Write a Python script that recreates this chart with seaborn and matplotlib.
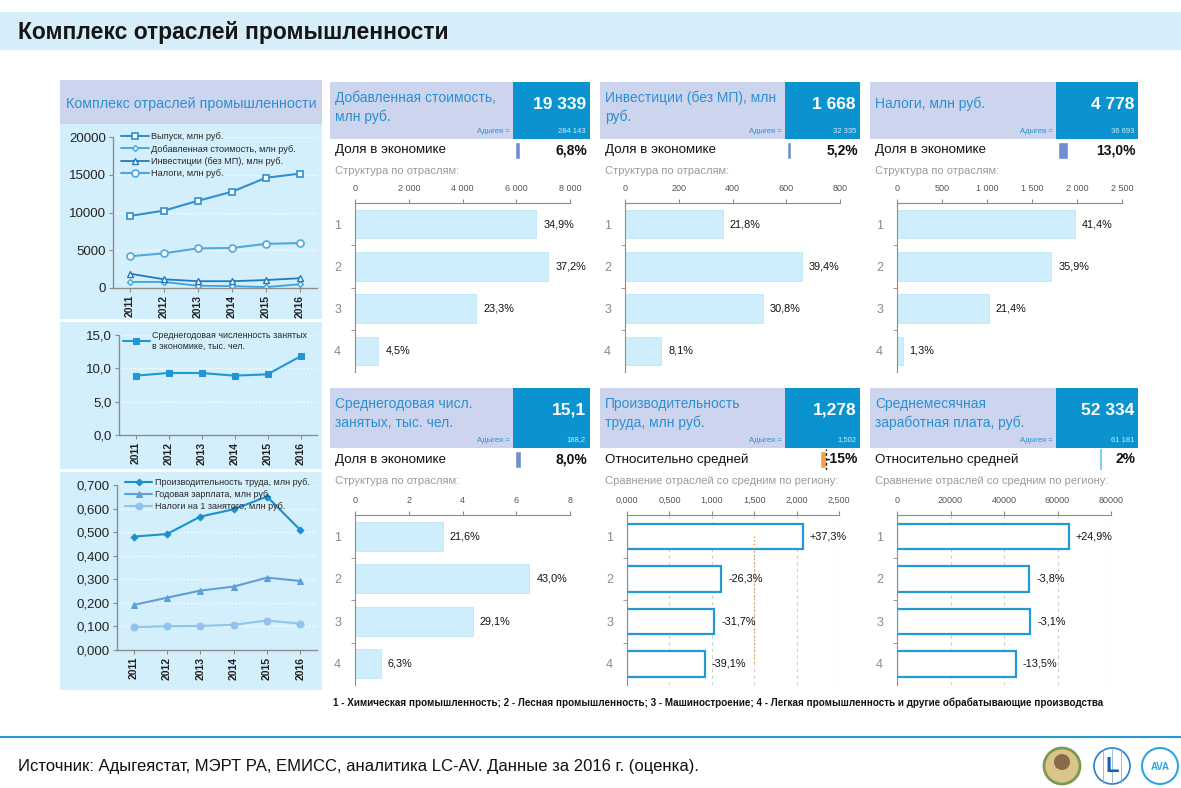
import numpy as np
import pandas as pd
import matplotlib
matplotlib.use('Agg')
import matplotlib.pyplot as plt
from matplotlib.patches import Rectangle, Circle
import seaborn as sns

# ---------------- DATA ----------------
years = ['2011', '2012', '2013', '2014', '2015', '2016']
output_vals = [9550, 10250, 11550, 12750, 14600, 15150]
taxes_line = [4200, 4600, 5250, 5300, 5850, 5950]
invest_line = [1900, 1150, 900, 900, 1050, 1300]
added_line = [800, 800, 300, 250, 120, 500]
line1_labels = ['Выпуск, млн руб.', 'Добавленная стоимость, млн руб.',
                'Инвестиции (без МП), млн руб.', 'Налоги, млн руб.']

employment = [8.9, 9.3, 9.3, 8.9, 9.1, 11.8]
employment_label = 'Среднегодовая численность занятых\nв экономике, тыс. чел.'

productivity = [0.481, 0.492, 0.566, 0.597, 0.651, 0.509]
annual_wage = [0.191, 0.222, 0.252, 0.269, 0.307, 0.293]
tax_per_emp = [0.097, 0.101, 0.102, 0.107, 0.125, 0.112]
line3_labels = ['Производительность труда, млн руб.', 'Годовая зарплата, млн руб.',
                'Налоги на 1 занятого, млн руб.']

industries = ['1', '2', '3', '4']
va_vals = [6749, 7194, 4506, 870]
va_shares = [34.9, 37.2, 23.3, 4.5]
inv_vals = [364, 657, 514, 135]
inv_shares = [21.8, 39.4, 30.8, 8.1]
tax_vals = [1978, 1715, 1022, 62]
tax_shares = [41.4, 35.9, 21.4, 1.3]
emp_vals = [3.26, 6.49, 4.39, 0.95]
emp_shares = [21.6, 43.0, 29.1, 6.3]
prod_vals = [2.07, 1.11, 1.03, 0.92]
prod_dev = [37.3, -26.3, -31.7, -39.1]
prod_region_avg = 1.502
wage_vals = [64300, 49500, 49900, 44500]
wage_dev = [24.9, -3.8, -3.1, -13.5]

panel_titles = ['Добавленная стоимость,\nмлн руб.', 'Инвестиции (без МП), млн\nруб.',
                'Налоги, млн руб.', 'Среднегодовая числ.\nзанятых, тыс. чел.',
                'Производительность\nтруда, млн руб.', 'Среднемесячная\nзаработная плата, руб.']
panel_big = ['19 339', '1 668', '4 778', '15,1', '1,278', '52 334']
panel_small = ['284 143', '32 335', '36 693', '188,2', '1,502', '61 181']
panel_share = [6.8, 5.2, 13.0, 8.0, -15, 2]
panel_share_txt = ['6,8%', '5,2%', '13,0%', '8,0%', '-15%', '2%']

footnote = ('1 - Химическая промышленность; 2 - Лесная промышленность; 3 - Машиностроение; '
            '4 - Легкая промышленность и другие обрабатывающие производства')
source = 'Источник: Адыгеястат, МЭРТ РА, ЕМИСС, аналитика LC-AV. Данные за 2016 г. (оценка).'

# ---------------- STYLE ----------------
sns.set_style('white')
plt.rcParams['font.family'] = ['Liberation Sans', 'DejaVu Sans']

TITLE_BAND = '#d5eefa'
LAV = '#cdd5ee'
BLUE_BOX = '#0a93cf'
PANEL_TXT = '#2b8fd1'
LEFT_BG = '#d3effb'
BAR_FILL = '#cdeefa'
OUT_EDGE = '#2499d6'
AXC = '#8c8c8c'

W, H = 1181, 788
fig = plt.figure(figsize=(W / 100, H / 100), dpi=100)
fig.patch.set_facecolor('white')

bg = fig.add_axes([0, 0, 1, 1])
bg.set_xlim(0, W)
bg.set_ylim(H, 0)
bg.axis('off')


def rect(x0, y0, x1, y1, color, **kw):
    bg.add_patch(Rectangle((x0, y0), x1 - x0, y1 - y0, facecolor=color, edgecolor='none', **kw))


def T(x, y, s, **kw):
    kw.setdefault('va', 'center')
    bg.text(x, y, s, **kw)


def axpx(x0, y0, x1, y1):
    return fig.add_axes([x0 / W, 1 - y1 / H, (x1 - x0) / W, (y1 - y0) / H])


# title band
rect(0, 12, W, 50, TITLE_BAND)
T(18, 32, 'Комплекс отраслей промышленности', fontsize=16.5, fontweight='bold', color='#151515')

# left panel backgrounds
rect(60, 80, 322, 124, LAV)
T(66, 104, 'Комплекс отраслей промышленности', fontsize=10.3, color=PANEL_TXT)
rect(60, 124, 322, 319, LEFT_BG)
rect(60, 322, 322, 469, LEFT_BG)
rect(60, 472, 322, 690, LEFT_BG)

# ---------------- LEFT LINE CHARTS ----------------
xs = np.arange(6)


def style_line_ax(ax, ylim, yticks, ylabels):
    ax.set_facecolor('none')
    ax.set_xlim(-0.5, 5.5)
    ax.set_ylim(*ylim)
    ax.set_yticks(yticks)
    ax.set_yticklabels(ylabels, fontsize=9.5, color='#222222')
    ax.set_xticks(xs)
    ax.set_xticklabels(years, rotation=90, fontsize=7.5, fontweight='bold', color='#222222')
    for s in ['top', 'right']:
        ax.spines[s].set_visible(False)
    for s in ['left', 'bottom']:
        ax.spines[s].set_color(AXC)
        ax.spines[s].set_linewidth(1)
    ax.tick_params(axis='both', direction='out', length=3, color=AXC, pad=2, left=True, bottom=True)
    ax.grid(axis='y', color='white', linestyle=':', linewidth=1)
    ax.set_axisbelow(True)
    ax.set_xlabel('')
    ax.set_ylabel('')


ax1 = axpx(113, 137, 317, 288)
c1 = ['#2f8fd0', '#3ea3dc', '#2279bd', '#4fa8de']
sns.lineplot(x=xs, y=output_vals, ax=ax1, color=c1[0], marker='s', markersize=5,
             markerfacecolor='white', markeredgecolor=c1[0], markeredgewidth=1.2,
             linewidth=1.5, label=line1_labels[0])
sns.lineplot(x=xs, y=added_line, ax=ax1, color=c1[1], marker='D', markersize=3,
             markerfacecolor='white', markeredgecolor=c1[1], markeredgewidth=1.0,
             linewidth=1.3, label=line1_labels[1])
sns.lineplot(x=xs, y=invest_line, ax=ax1, color=c1[2], marker='^', markersize=5,
             markerfacecolor='white', markeredgecolor=c1[2], markeredgewidth=1.0,
             linewidth=1.3, label=line1_labels[2])
sns.lineplot(x=xs, y=taxes_line, ax=ax1, color=c1[3], marker='o', markersize=5,
             markerfacecolor='white', markeredgecolor=c1[3], markeredgewidth=1.2,
             linewidth=1.5, label=line1_labels[3])
style_line_ax(ax1, (0, 20000), [0, 5000, 10000, 15000, 20000],
              ['0', '5000', '10000', '15000', '20000'])
ax1.legend(loc='upper left', bbox_to_anchor=(0.04, 1.03), fontsize=6.6, frameon=False,
           handlelength=3.0, handletextpad=0.3, labelspacing=0.35, borderpad=0, borderaxespad=0)

ax2 = axpx(119, 335, 317, 435)
sns.lineplot(x=xs, y=employment, ax=ax2, color='#2196d6', marker='s', markersize=5,
             markeredgecolor='#2196d6', linewidth=1.5, label=employment_label)
style_line_ax(ax2, (0, 15), [0, 5, 10, 15], ['0,0', '5,0', '10,0', '15,0'])
ax2.legend(loc='upper left', bbox_to_anchor=(0.02, 1.04), fontsize=6.4, frameon=False,
           handlelength=3.0, handletextpad=0.3, borderpad=0, borderaxespad=0)

ax3 = axpx(117, 485, 317, 650)
c3 = ['#1c8fd0', '#5d9fd6', '#93c3ea']
sns.lineplot(x=xs, y=productivity, ax=ax3, color=c3[0], marker='D', markersize=3.5,
             markeredgecolor=c3[0], linewidth=1.5, label=line3_labels[0])
sns.lineplot(x=xs, y=annual_wage, ax=ax3, color=c3[1], marker='^', markersize=5,
             markeredgecolor=c3[1], linewidth=1.5, label=line3_labels[1])
sns.lineplot(x=xs, y=tax_per_emp, ax=ax3, color=c3[2], marker='o', markersize=5,
             markeredgecolor=c3[2], linewidth=1.5, label=line3_labels[2])
yt3 = [0, 0.1, 0.2, 0.3, 0.4, 0.5, 0.6, 0.7]
style_line_ax(ax3, (0, 0.7), yt3, [f'{v:.3f}'.replace('.', ',') for v in yt3])
ax3.legend(loc='upper left', bbox_to_anchor=(0.04, 1.04), fontsize=6.5, frameon=False,
           handlelength=3.0, handletextpad=0.3, labelspacing=0.3, borderpad=0, borderaxespad=0)

# ---------------- RIGHT PANELS ----------------
cols = [(330, 513, 590), (600, 785, 860), (870, 1056, 1138)]
rows = [dict(top=82, bot=139, ind0=141, ind1=160, ind_y=150, sub_y=171),
        dict(top=388, bot=448, ind0=449, ind1=470, ind_y=460, sub_y=481)]
row_texts = [['Доля в экономике'] * 3,
             ['Доля в экономике', 'Относительно средней', 'Относительно средней']]
sub_texts = [['Структура по отраслям:'] * 3,
             ['Структура по отраслям:', 'Сравнение отраслей со средним по региону:',
              'Сравнение отраслей со средним по региону:']]

for r, rw in enumerate(rows):
    for c, (x0, xb, x1) in enumerate(cols):
        k = r * 3 + c
        rect(x0, rw['top'], xb, rw['bot'], LAV)
        rect(xb, rw['top'], x1, rw['bot'], BLUE_BOX)
        title = panel_titles[k]
        if '\n' in title:
            l1, l2 = title.split('\n')
            T(x0 + 5, rw['top'] + 16, l1, fontsize=10, color=PANEL_TXT)
            T(x0 + 5, rw['top'] + 35, l2, fontsize=10, color=PANEL_TXT)
        else:
            T(x0 + 5, rw['top'] + 22, title, fontsize=10, color=PANEL_TXT)
        T(x1 - 4, rw['top'] + 22, panel_big[k], fontsize=12.5, fontweight='bold',
          color='white', ha='right')
        T(x1 - 4, rw['bot'] - 8, panel_small[k], fontsize=5.5, color='#cfeaf8', ha='right')
        T(xb - 3, rw['bot'] - 8, 'Адыгея =', fontsize=5.5, color=PANEL_TXT, ha='right')
        T(x0 + 5, rw['ind_y'], row_texts[r][c], fontsize=9.6, color='#111111')
        T(x0 + 5, rw['sub_y'], sub_texts[r][c], fontsize=8, color='#9a9a9a')

        # indicator box
        iax = axpx(xb + 2, rw['ind0'], x1, rw['ind1'])
        iax.set_facecolor(LAV)
        val = panel_share[k]
        if k in (4, 5):
            col = '#f4a04a' if k == 4 else '#5ccaf2'
            sns.barplot(x=[val], y=['v'], orient='h', color=col, saturation=1,
                        width=0.85, ax=iax)
            iax.set_xlim(-97, 85)
            if k == 4:
                iax.axvline(0, color='#222222', linestyle=(0, (2, 1.5)), linewidth=1)
            else:
                iax.axvline(0, color='#5ccaf2', linewidth=1.2)
        else:
            sns.barplot(x=[val], y=['v'], orient='h', color='#6f8fcf', saturation=1,
                        width=0.85, ax=iax)
            iax.set_xlim(0, 100)
        iax.axis('off')
        iax.text(0.97, 0.5, panel_share_txt[k], transform=iax.transAxes, ha='right',
                 va='center', fontsize=10, fontweight='bold', color='#111111')


def bar_chart(box, vals, labels, xmax, ticks, ticklabels, outline=False, avg=None):
    ax = axpx(*box)
    df = pd.DataFrame({'cat': industries, 'val': vals})
    if outline:
        sns.barplot(data=df, x='val', y='cat', orient='h', color='white', saturation=1,
                    edgecolor=OUT_EDGE, linewidth=1.6, width=0.6, ax=ax)
        ax.grid(axis='x', color='#cfcfcf', linestyle=(0, (3, 3)), linewidth=0.8)
        ax.set_axisbelow(True)
    else:
        sns.barplot(data=df, x='val', y='cat', orient='h', color=BAR_FILL, saturation=1,
                    edgecolor='#bfe6f7', linewidth=0.6, width=0.68, ax=ax)
    ax.set_facecolor('none')
    ax.set_xlim(0, xmax)
    ax.set_ylim(3.5, -0.5)
    ax.xaxis.tick_top()
    ax.set_xticks(ticks)
    ax.set_xticklabels(ticklabels, fontsize=6.5, color='#555555')
    ax.set_yticks([0.5, 1.5, 2.5], minor=True)
    ax.tick_params(axis='x', direction='out', length=3, color=AXC, pad=4, top=True)
    ax.tick_params(axis='y', which='major', length=0, pad=10, labelsize=9, labelcolor='#8a8a8a')
    ax.tick_params(axis='y', which='minor', direction='out', length=3, color=AXC, left=True)
    ax.set_xlabel('')
    ax.set_ylabel('')
    for s in ['right', 'bottom']:
        ax.spines[s].set_visible(False)
    for s in ['left', 'top']:
        ax.spines[s].set_color(AXC)
    ax.bar_label(ax.containers[0], labels=labels, padding=5, fontsize=7.8, color='#111111')
    if avg is not None:
        ax.plot([avg, avg], [0, 3], color='#f2a24e', linestyle=':', linewidth=1)
    return ax


def pct(v):
    return f'{v:.1f}%'.replace('.', ',')


def spct(v):
    return ('+' if v > 0 else '') + f'{v:.1f}%'.replace('.', ',')


bar_chart((355, 203, 570, 372), va_vals, [pct(v) for v in va_shares], 8000,
          [0, 2000, 4000, 6000, 8000], ['0', '2 000', '4 000', '6 000', '8 000'])
bar_chart((625, 203, 840, 372), inv_vals, [pct(v) for v in inv_shares], 800,
          [0, 200, 400, 600, 800], ['0', '200', '400', '600', '800'])
bar_chart((897, 203, 1122, 372), tax_vals, [pct(v) for v in tax_shares], 2500,
          [0, 500, 1000, 1500, 2000, 2500], ['0', '500', '1 000', '1 500', '2 000', '2 500'])
bar_chart((355, 515, 570, 685), emp_vals, [pct(v) for v in emp_shares], 8,
          [0, 2, 4, 6, 8], ['0', '2', '4', '6', '8'])
bar_chart((627, 515, 839, 685), prod_vals, [spct(v) for v in prod_dev], 2.5,
          [0, 0.5, 1.0, 1.5, 2.0, 2.5], ['0,000', '0,500', '1,000', '1,500', '2,000', '2,500'],
          outline=True, avg=prod_region_avg)
bar_chart((897, 515, 1111, 685), wage_vals, [spct(v) for v in wage_dev], 80000,
          [0, 20000, 40000, 60000, 80000], ['0', '20000', '40000', '60000', '80000'],
          outline=True)

# footnote
T(333, 703, footnote, fontsize=7.1, fontweight='bold', color='#111111')

# bottom line and source
bg.plot([0, W], [737, 737], color='#2b9bd6', linewidth=1.5)
T(18, 767, source, fontsize=12, color='#111111')

# logos
bg.add_patch(Circle((1062, 766), 18, facecolor='#d9c489', edgecolor='#7a9a50', linewidth=2))
bg.add_patch(Circle((1062, 762), 8, facecolor='#8a6a4a', edgecolor='none'))
bg.add_patch(Circle((1112, 766), 18, facecolor='white', edgecolor='#2a7fc8', linewidth=1.2))
for dx in (-10, 0, 10):
    bg.plot([1112 + dx * 0.9, 1112 + dx * 0.9], [749, 783], color='#7fb4e0', linewidth=0.6)
T(1112, 767, 'L', fontsize=16, fontweight='bold', color='#1f5fae', ha='center')
bg.add_patch(Circle((1160, 766), 18, facecolor='white', edgecolor='#2fa6e0', linewidth=1.5))
T(1160, 767, 'AVA', fontsize=7, fontweight='bold', color='#2fa6e0', ha='center')

fig.savefig('out.png', dpi=100)
